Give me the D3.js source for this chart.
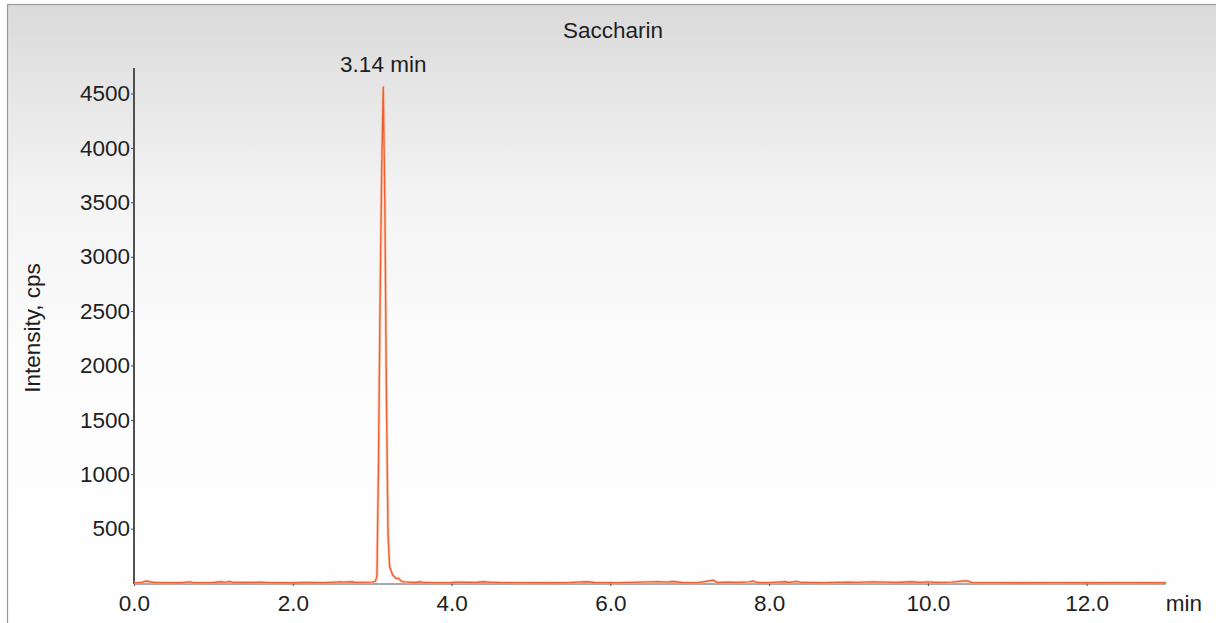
<!DOCTYPE html>
<html>
<head>
<meta charset="utf-8">
<script src="https://cdn.jsdelivr.net/npm/d3@7"></script>
<style>
  html, body { margin: 0; padding: 0; background: #ffffff; }
  svg { display: block; }
  text { font-family: "Liberation Sans", Arial, sans-serif; fill: #1e1e1e; }
</style>
</head>
<body>
<svg id="chart" width="1216" height="623"></svg>
<script>
// ---- data ----
const chartTitle = "Saccharin";
const peakLabel = "3.14 min";
const peakTime = 3.14;
const xTicks = [0, 2, 4, 6, 8, 10, 12];
const yTicks = [500, 1000, 1500, 2000, 2500, 3000, 3500, 4000, 4500];
const times = [
  0.0, 0.1, 0.15, 0.2, 0.25, 0.4, 0.6, 0.7, 0.75, 1.0, 1.1, 1.15, 1.2, 1.25, 1.5, 1.6, 1.7,
  2.0, 2.2, 2.4, 2.6, 2.65, 2.75, 2.8, 2.9, 3.0, 3.04,
  3.06, 3.08, 3.10, 3.12, 3.14, 3.16, 3.18, 3.20, 3.22, 3.24, 3.26, 3.28, 3.30, 3.33, 3.36, 3.40,
  3.45, 3.55, 3.6, 3.65, 3.8, 4.0, 4.1, 4.3, 4.4, 4.5, 4.6, 4.9, 5.2, 5.5, 5.6, 5.7, 5.8,
  6.1, 6.3, 6.5, 6.6, 6.7, 6.8, 6.9, 7.1, 7.3, 7.35, 7.5, 7.6, 7.75, 7.8, 7.85, 8.0,
  8.2, 8.25, 8.35, 8.4, 8.7, 9.0, 9.1, 9.3, 9.5, 9.6, 9.8, 9.9, 10.0, 10.1, 10.3, 10.45,
  10.5, 10.55, 10.8, 11.2, 11.6, 12.0, 12.5, 13.0
];
const intensities = [
  3, 5, 18, 12, 4, 3, 2, 10, 3, 4, 12, 6, 14, 4, 5, 8, 3,
  2, 5, 3, 10, 8, 12, 4, 6, 8, 15,
  60, 1100, 2600, 3800, 4560, 3500, 1700, 450, 150, 110, 70, 60, 40, 45, 20, 10,
  8, 5, 12, 4, 3, 5, 8, 4, 12, 6, 4, 3, 2, 5, 8, 12, 4,
  3, 6, 10, 12, 8, 14, 4, 3, 25, 4, 8, 5, 10, 18, 4, 3,
  12, 5, 15, 4, 3, 8, 6, 10, 8, 5, 12, 5, 10, 4, 8, 18,
  20, 5, 3, 2, 3, 2, 3, 2
];

// ---- layout ----
const W = 1216, H = 623;
const FS = 22.5;
const svg = d3.select("#chart");
const defs = svg.append("defs");
const grad = defs.append("linearGradient").attr("id", "bg").attr("x1", 0).attr("x2", 0).attr("y1", 0).attr("y2", 1);
grad.append("stop").attr("offset", "0%").attr("stop-color", "#dadada");
grad.append("stop").attr("offset", "30%").attr("stop-color", "#f3f3f3");
grad.append("stop").attr("offset", "55%").attr("stop-color", "#fcfcfc");
grad.append("stop").attr("offset", "100%").attr("stop-color", "#ffffff");

svg.append("rect").attr("x", 0).attr("y", 0).attr("width", W).attr("height", H).attr("fill", "#ffffff");
svg.append("rect").attr("x", 7.5).attr("y", 4.5).attr("width", W).attr("height", H)
  .attr("fill", "url(#bg)").attr("stroke", "#9a9a9a").attr("stroke-width", 1.2);

const x = d3.scaleLinear().domain([0, 13]).range([134, 1166]);
const y = d3.scaleLinear().domain([0, 4735]).range([583, 68]);

// x axis baseline (gray)
svg.append("line").attr("x1", x(0)).attr("x2", x(13)).attr("y1", y(0) + 1).attr("y2", y(0) + 1)
  .attr("stroke", "#8c8c8c").attr("stroke-width", 1.5);

// x ticks
const xAxis = svg.append("g").attr("transform", `translate(0,${y(0)})`)
  .call(d3.axisBottom(x).tickValues(xTicks).tickSize(3).tickSizeOuter(0).tickFormat(d3.format(".1f")));
xAxis.select(".domain").remove();
xAxis.selectAll(".tick line").attr("stroke", "#444").attr("stroke-width", 1);
xAxis.selectAll(".tick text").attr("font-size", FS).attr("dy", "0.98em")
  .style("font-family", "'Liberation Sans', Arial, sans-serif").attr("fill", "#1e1e1e");

// y axis
const yAxis = svg.append("g").attr("transform", `translate(${x(0)},0)`)
  .call(d3.axisLeft(y).tickValues(yTicks).tickSize(3).tickSizeOuter(0).tickFormat(d3.format("d")).tickPadding(1));
yAxis.select(".domain").remove();
yAxis.selectAll(".tick line").attr("stroke", "#444");
yAxis.selectAll(".tick text").attr("font-size", FS)
  .style("font-family", "'Liberation Sans', Arial, sans-serif").attr("fill", "#1e1e1e");
svg.append("line").attr("x1", x(0)).attr("x2", x(0)).attr("y1", y(4735)).attr("y2", y(0) + 1)
  .attr("stroke", "#505050").attr("stroke-width", 2);

// trace
const line = d3.line().x((d, i) => x(times[i])).y((d, i) => y(intensities[i]));
svg.append("path").datum(intensities).attr("d", line)
  .attr("fill", "none").attr("stroke", "#fbb89c").attr("stroke-width", 3).attr("stroke-linejoin", "round").attr("opacity", 0.6);
svg.append("path").datum(intensities).attr("d", line)
  .attr("fill", "none").attr("stroke", "#f0602e").attr("stroke-width", 1.4).attr("stroke-linejoin", "round");

// texts
svg.append("text").attr("x", 613).attr("y", 38).attr("text-anchor", "middle").attr("font-size", FS).text(chartTitle);
svg.append("text").attr("x", x(peakTime)).attr("y", 72).attr("text-anchor", "middle").attr("font-size", FS).text(peakLabel);
svg.append("text").attr("transform", `translate(40,${328}) rotate(-90)`).attr("text-anchor", "middle").attr("font-size", FS).text("Intensity, cps");
svg.append("text").attr("x", 1184).attr("y", 611).attr("text-anchor", "middle").attr("font-size", FS).text("min");
</script>
</body>
</html>
